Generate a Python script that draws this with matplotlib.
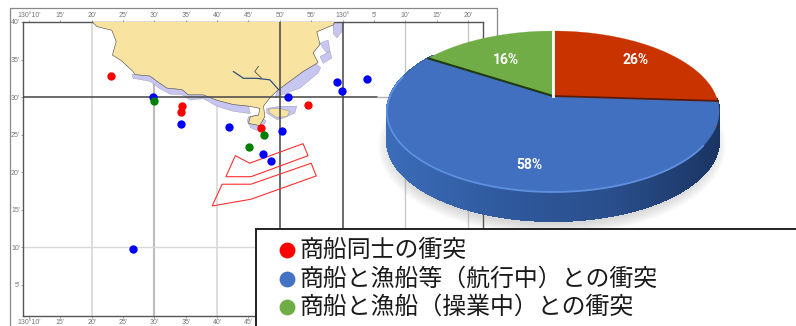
import numpy as np
import matplotlib
matplotlib.use('Agg')
import matplotlib.pyplot as plt
from matplotlib.patches import Polygon, Rectangle, Ellipse
from matplotlib.colors import LinearSegmentedColormap

# collision points, minutes of longitude past 130 deg and minutes of latitude past 37 deg
red_lon = [23.1, 34.4, 34.2, 47.0, 54.5]
red_lat = [32.8, 28.8, 28.0, 25.9, 29.0]
blue_lon = [29.8, 34.2, 41.9, 51.3, 50.3, 47.3, 48.6, 59.1, 59.9, 63.9, 26.6]
blue_lat = [30.0, 26.4, 26.0, 30.0, 25.5, 22.4, 21.5, 32.0, 30.8, 32.4, 9.8]
green_lon = [29.9, 47.5, 45.1]
green_lat = [29.5, 25.0, 23.4]

land_lon = [20.0, 20.8, 23.2, 23.9, 23.3, 24.8, 26.6, 26.9, 29.3, 30.4, 32.0, 34.4, 35.4, 37.8, 39.9, 42.6, 45.0,
            46.8, 46.6, 45.3, 45.0, 46.8, 47.6, 47.4, 48.4, 49.8, 51.9, 53.7, 56.1, 55.3, 56.4, 55.9, 58.5, 58.8]
land_lat = [40.1, 39.4, 38.9, 37.4, 35.6, 34.8, 33.4, 33.0, 32.8, 32.1, 31.2, 31.0, 30.3, 30.3, 29.6, 29.0, 28.8,
            28.5, 27.6, 27.4, 26.5, 26.2, 27.4, 28.8, 29.9, 31.0, 32.3, 33.4, 34.6, 35.9, 37.0, 38.7, 39.6, 40.1]
shoal_west = [(26.4, 33.0), (29.3, 33.0), (30.4, 32.3), (32.0, 31.3), (34.4, 31.1), (35.4, 30.4), (37.8, 30.4),
              (39.9, 29.8), (42.6, 29.1), (45.0, 28.8), (45.3, 27.8), (42.6, 28.1), (39.9, 28.8), (37.8, 29.8),
              (35.7, 29.6), (34.4, 30.3), (32.5, 30.4), (30.9, 31.1), (29.3, 32.1), (26.6, 32.5)]
shoal_east = [(50.3, 30.3), (53.2, 31.2), (56.1, 33.2), (56.5, 33.9), (55.6, 34.6), (53.7, 33.6), (49.8, 31.2), (49.2, 29.9)]
shoal_bay = [(56.4, 35.4), (58.0, 36.1), (58.3, 35.2), (56.9, 34.5)]
shoal_inlet = [(56.4, 37.2), (57.7, 37.6), (58.0, 36.1), (57.5, 35.9), (56.9, 36.5)]
shoal_north = [(58.5, 39.9), (60.0, 39.9), (59.9, 38.7), (59.1, 37.9), (58.5, 38.5)]
shoal_cape = [(45.0, 27.4), (46.8, 27.6), (47.8, 26.8), (46.8, 25.4), (45.4, 25.9), (44.8, 26.8)]
shoal_island = [(47.9, 28.5), (50.3, 28.8), (52.7, 28.8), (52.4, 27.9), (50.6, 27.2), (49.5, 27.0), (47.9, 27.9)]
island = [(48.2, 28.4), (50.0, 28.5), (51.6, 28.1), (51.1, 27.4), (49.5, 27.3), (48.4, 27.9)]
river_lon = [42.6, 44.2, 46.3, 48.4, 49.8]
river_lat = [33.4, 32.5, 32.5, 32.3, 31.0]
branch_lon = [46.6, 46.0, 47.1]
branch_lat = [34.1, 33.4, 32.5]
area_north = [(42.9, 22.2), (45.2, 21.2), (53.7, 23.8), (54.5, 22.2), (45.4, 19.4), (41.4, 19.4)]
area_south = [(45.4, 18.4), (55.0, 21.2), (55.8, 19.5), (45.4, 16.4), (39.2, 15.5), (40.8, 18.4)]

lon_ticks = [10, 15, 20, 25, 30, 35, 40, 45, 50, 55, 60, 65, 70, 75, 80]
lon_labels = ["130°10'", "15'", "20'", "25'", "30'", "35'", "40'", "45'", "50'", "55'", "130°", "5'", "10'", "15'", "20'"]
lat_ticks = [40, 35, 30, 25, 20, 15, 10, 5]
lat_labels = ["40'", "35'", "30'", "25'", "20'", "15'", "10'", "5'"]

pie_values = [26, 58, 16]
pie_labels = ['26%', '58%', '16%']
pie_colors = ['#C83300', '#4170C0', '#70AD47']

legend_labels = ['商船同士の衝突', '商船と漁船等（航行中）との衝突', '商船と漁船（操業中）との衝突']
legend_colors = ['#FF0000', '#4472C4', '#70AD47']

plt.rcParams['font.family'] = ['Noto Sans CJK JP', 'DejaVu Sans']

W, H = 796, 326
fig = plt.figure(figsize=(W / 100, H / 100), dpi=100)

# ------------- MAP
ax = fig.add_axes([23 / W, 1 - 316 / H, 460 / W, 294 / H])
ax.set_xlim(9.04, 82.4)
ax.set_ylim(0.85, 40)
for s in ax.spines.values():
    s.set_color('#555555')
    s.set_linewidth(1)

ax.axvline(20, color='#d8d8d8', lw=1.2, zorder=1)
ax.axvline(30, color='#bdbdbd', lw=1.5, zorder=1)
ax.axvline(40, color='#d8d8d8', lw=1.2, zorder=1)
ax.axvline(70, color='#c8c8c8', lw=1, zorder=1)
ax.axvline(80, color='#c8c8c8', lw=1, zorder=1)
ax.axhline(10, color='#d8d8d8', lw=1, zorder=1)

for shoal in [shoal_west, shoal_east, shoal_bay, shoal_inlet, shoal_north, shoal_cape, shoal_island]:
    ax.add_patch(Polygon(shoal, closed=True, fc='#C6C6F0', ec='#777799', lw=0.2, zorder=2))
ax.fill(land_lon, land_lat, fc='#F9E3A0', ec='#444444', lw=0.4, zorder=3)
ax.add_patch(Polygon(island, closed=True, fc='#F9E3A0', ec='#666666', lw=0.2, zorder=3))
ax.plot(river_lon, river_lat, color='#2f4f80', lw=0.9, zorder=4)
ax.plot(branch_lon, branch_lat, color='#333333', lw=0.5, zorder=4)

ax.axvline(50, color='#444444', lw=1.1, zorder=4)
ax.axvline(60, color='#444444', lw=1.1, zorder=4)
ax.plot([9.04, 65.5], [30, 30], color='#444444', lw=1.1, zorder=4)
ax.plot([65.5, 76], [30, 30], color='#b0b0b0', lw=1, zorder=4)

for area in [area_north, area_south]:
    ax.add_patch(Polygon(area, closed=True, fc='none', ec='#FF3030', lw=0.8, zorder=5))

ax.scatter(blue_lon, blue_lat, s=36, color='#0000FF', lw=0, zorder=6)
ax.scatter(red_lon, red_lat, s=36, color='#FF0000', lw=0, zorder=7)
ax.scatter(green_lon, green_lat, s=36, color='#007F00', lw=0, zorder=7)

ax.set_xticks(lon_ticks, lon_labels, family='Liberation Sans')
ax.set_yticks(lat_ticks, lat_labels, family='Liberation Sans')
ax.tick_params(axis='x', top=True, labeltop=True, bottom=True, labelbottom=True,
               length=1.5, width=0.5, pad=0.5, labelsize=5, colors='#777777')
ax.tick_params(axis='y', length=1.5, width=0.5, pad=0.5, labelsize=5, colors='#777777')

# ------------- PIE AND LEGEND, in picture pixels
top = fig.add_axes([0, 0, 1, 1])
top.set_xlim(0, W)
top.set_ylim(H, 0)
top.axis('off')

top.plot([10, 10, 497, 497], [H, 8, 8, 60], color='#888888', lw=0.9, zorder=1)

# perspective circle, apex is not in the middle of the ellipse
cx, cy, rx, ry, k = 553, 96, 163, 77.5, 0.1925
depth = 29


def rim(deg):
    t = np.radians(deg)
    w = 1 + k * np.cos(t)
    return cx + rx * np.sin(t) / w, cy - ry * np.cos(t) / w


for i in range(6):
    top.add_patch(Ellipse((552, 146), 322 + i * 5, 158 + i * 4, fc='#777777', alpha=0.05, lw=0, zorder=2))

side_cmap = LinearSegmentedColormap.from_list('side', ['#3C6CB8', '#2F5A9E', '#2A4F8C', '#1B3563'])
angles = np.linspace(92, 305, 300)
for a0, a1 in zip(angles[:-1], angles[1:]):
    x0, y0 = rim(a0)
    x1, y1 = rim(a1)
    col = side_cmap((718 - (x0 + x1) / 2) / 332)
    col = side_cmap(1 - (718 - (x0 + x1) / 2) / 332)
    top.add_patch(Polygon([(x0, y0), (x1, y1), (x1, y1 + depth), (x0, y0 + depth)],
                          fc=col, ec=col, lw=0.8, antialiased=False, zorder=3))

bx, by = rim(93.6)
top.plot([bx, bx - 1.5], [by, by + 26], color='#6E2408', lw=1.5, zorder=3)

edges = np.cumsum([0] + pie_values) * 3.6
for val_i, col in enumerate(pie_colors):
    th = np.linspace(edges[val_i], edges[val_i + 1], 120)
    xs, ys = rim(th)
    pts = [(cx, cy)] + list(zip(xs, ys))
    top.add_patch(Polygon(pts, closed=True, fc=col, ec=col, lw=0.2, zorder=4))

hx, hy = rim(np.linspace(125, 285, 120))
top.plot(hx, hy, color='#5F90E0', lw=1.3, zorder=5)

x_b, y_b = rim(edges[1])
top.plot([cx, x_b], [cy, y_b], color='#5A1A06', lw=1.3, zorder=6)
x_g, y_g = rim(edges[2])
top.plot([cx, x_g], [cy, y_g], color='#1F3A12', lw=1.5, zorder=6)
x_w, y_w = rim(0)
top.plot([cx, x_w], [cy, y_w], color='white', lw=2, zorder=6)

label_pos = [(636, 60), (529, 165), (506, 60)]
for lab, (px, py) in zip(pie_labels, label_pos):
    top.text(px, py, lab, color='white', fontsize=10, fontweight='bold', ha='center', va='center', zorder=7,
             family=['Roboto', 'DejaVu Sans'])

top.add_patch(Rectangle((256, 228.5), 560, 120, fc='white', ec='#222222', lw=1.4, zorder=8))
legend_y = [250, 279, 307]
for lab, col, ly in zip(legend_labels, legend_colors, legend_y):
    top.scatter([287], [ly], s=130, color=col, lw=0, zorder=9)
    top.text(299, ly, lab, fontsize=17.2, color='#1a1a1a', ha='left', va='center', zorder=9)

fig.savefig('out.png', dpi=100)
